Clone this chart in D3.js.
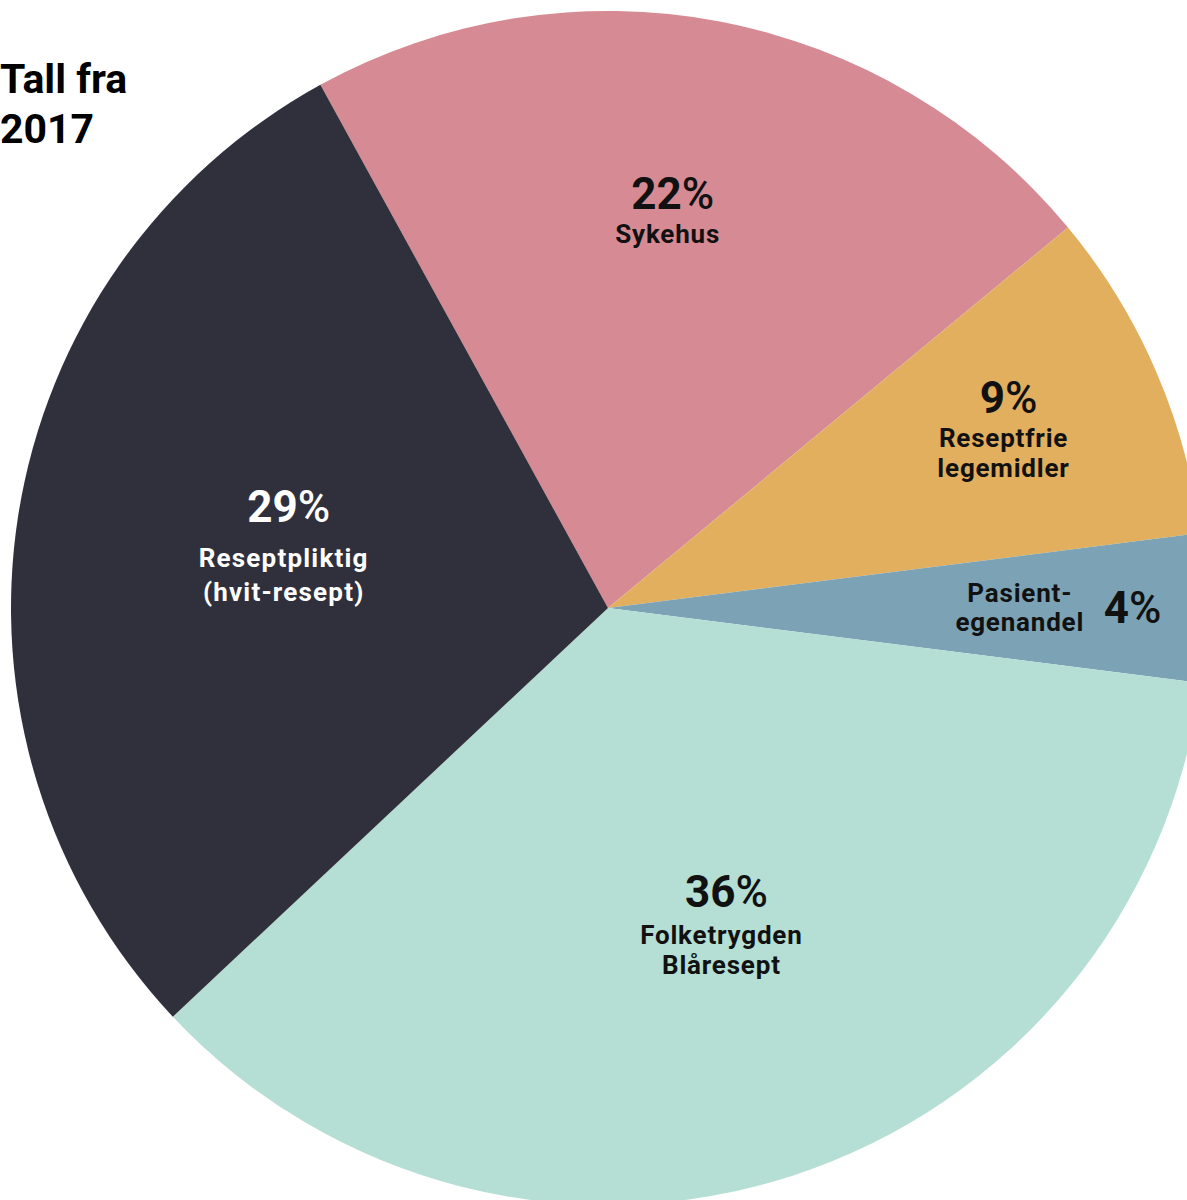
<!DOCTYPE html>
<html><head><meta charset="utf-8">
<script src="https://cdn.jsdelivr.net/npm/d3@7"></script>
<style>
html,body{margin:0;padding:0;background:#fff;overflow:hidden}
svg{display:block}
text{font-family:Roboto,"Noto Sans",sans-serif;font-weight:700}
</style></head><body>
<svg id="chart" width="1187" height="1200"></svg>
<script>
const categories = ["Sykehus", "Reseptfrie legemidler", "Pasient-egenandel", "Folketrygden Blåresept", "Reseptpliktig (hvit-resept)"];
const values = [22, 9, 4, 36, 29];
const labelLines = [["Sykehus"], ["Reseptfrie", "legemidler"], ["Pasient-", "egenandel"], ["Folketrygden", "Blåresept"], ["Reseptpliktig", "(hvit-resept)"]];
const colors = ["#d68b94", "#e2af5e", "#7ba3b5", "#b5dfd4", "#2f303c"];
const textColors = ["#111", "#111", "#111", "#111", "#fff"];
const title = ["Tall fra", "2017"];

const W = 1187, H = 1200;
const cx = 608, cy = 608, R = 597;
const svg = d3.select("#chart");

const startA = -28.8 * Math.PI / 180;
const pie = d3.pie().sort(null).value(d => d).startAngle(startA).endAngle(startA + 2 * Math.PI);
const arcs = pie(values);
const arc = d3.arc().innerRadius(0).outerRadius(R);

const g = svg.append("g").attr("transform", `translate(${cx},${cy})`);
g.selectAll("path").data(arcs).enter().append("path")
  .attr("d", arc)
  .attr("fill", (d, i) => colors[i]);

// label placement (fraction of radius, angle tweak in degrees)
const labelFrac = [0.675, 0.73, 0.75, 0.565, 0.55];
const angleTweak = [-2, -0.8, 0, -2, 2];
const pctSize = 44, labSize = 26;

arcs.forEach((a, i) => {
  const mid = (a.startAngle + a.endAngle) / 2 + angleTweak[i] * Math.PI / 180;
  const r = R * labelFrac[i];
  const x = Math.sin(mid) * r, y = -Math.cos(mid) * r;
  const pct = values[i];
  const t = g.append("g").attr("transform", `translate(${x},${y})`).attr("fill", textColors[i]);
  if (i === 2) {
    t.append("text").attr("x", -36).attr("y", -6).attr("text-anchor", "middle")
      .attr("font-size", labSize).attr("letter-spacing", 0.8).text(labelLines[i][0]);
    t.append("text").attr("x", -36).attr("y", 23).attr("text-anchor", "middle")
      .attr("font-size", labSize).attr("letter-spacing", 0.8).text(labelLines[i][1]);
    const p = t.append("text").attr("x", 48).attr("y", 15).attr("text-anchor", "start").attr("font-size", pctSize);
    p.append("tspan").text(pct);
    p.append("tspan").attr("font-weight", 500).text("%");
  } else {
    const lines = labelLines[i];
    const lh = i === 4 ? 34 : 30;
    const gap = i === 4 ? 45 : (i === 3 ? 37 : 34);
    const total = gap + lh * (lines.length - 1);
    const top = -total / 2 + 16;
    const p = t.append("text").attr("x", 3).attr("y", top).attr("text-anchor", "middle").attr("font-size", pctSize);
    p.append("tspan").text(pct);
    p.append("tspan").attr("font-weight", 500).text("%");
    lines.forEach((ln, j) => {
      t.append("text").attr("x", -2).attr("y", top + gap + lh * j).attr("text-anchor", "middle")
        .attr("font-size", labSize).attr("letter-spacing", i === 4 ? 1.2 : 0.8).text(ln);
    });
  }
});

svg.append("g").selectAll("text").data(title).enter().append("text")
  .attr("x", 0).attr("y", (d, i) => 93 + i * 50)
  .attr("font-size", 41).attr("fill", "#000").text(d => d);
</script>
</body></html>
